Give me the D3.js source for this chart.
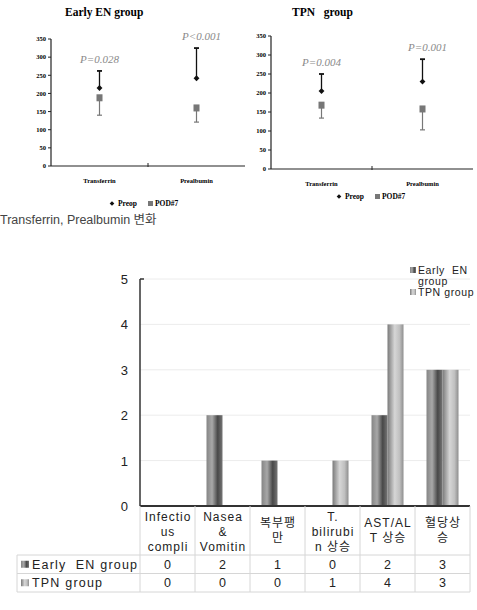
<!DOCTYPE html>
<html>
<head>
<meta charset="utf-8">
<script src="https://cdn.jsdelivr.net/npm/d3@7"></script>
<style>
  body { margin: 0; background: #fff; }
  svg { display: block; }
</style>
</head>
<body>
<div class="svgcontainer"></div>
<script>
// top panels: mean and one-sided error bar ends
const topCategories = ['Transferrin', 'Prealbumin'];
const enPreop = [215, 242];
const enPreopUpper = [262, 325];
const enPod = [188, 160];
const enPodLower = [140, 121];
const enPvalues = ['P=0.028', 'P<0.001'];
const tpnPreop = [205, 230];
const tpnPreopUpper = [250, 289];
const tpnPod = [168, 158];
const tpnPodLower = [134, 103];
const tpnPvalues = ['P=0.004', 'P=0.001'];
const topTicks = [0, 50, 100, 150, 200, 250, 300, 350];

// bottom panel: complications
const compCategories = [
  ['Infectio', 'us', 'compli'],
  ['Nasea', '&', 'Vomitin'],
  ['복부팽', '만'],
  ['T.', 'bilirubi', 'n 상승'],
  ['AST/AL', 'T 상승'],
  ['혈당상', '승'],
];
const seriesNames = ['Early  EN group', 'TPN group'];
const enCounts = [0, 2, 1, 0, 2, 3];
const tpnCounts = [0, 0, 0, 1, 4, 3];
const countTicks = [0, 1, 2, 3, 4, 5];

const svg = d3
  .select('.svgcontainer')
  .append('svg')
  .attr('width', 477)
  .attr('height', 610);

const defs = svg.append('defs');
function gradient(id, stops) {
  const lg = defs.append('linearGradient').attr('id', id)
    .attr('x1', '0%').attr('x2', '100%').attr('y1', '0%').attr('y2', '0%');
  stops.forEach(s => lg.append('stop').attr('offset', s[0]).attr('stop-color', s[1]));
}
gradient('gradEN', [['0%', '#858585'], ['35%', '#a8a8a8'], ['70%', '#484848'], ['100%', '#767676']]);
gradient('gradTPN', [['0%', '#7a7a7a'], ['45%', '#d6d6d6'], ['75%', '#c0c0c0'], ['100%', '#8e8e8e']]);

const serif = "'Liberation Serif', 'DejaVu Serif', serif";

function smallPanel(opt) {
  const g = svg.append('g');
  const x = d3.scaleLinear().domain([0, 4]).range([opt.left, opt.right]);
  const y = d3.scaleLinear().domain([0, 350]).range([opt.bottom, opt.top]);

  g.append('text')
    .attr('x', opt.titleX)
    .attr('y', 16)
    .style('font', `bold 11.5px ${serif}`)
    .attr('xml:space', 'preserve')
    .text(opt.title);

  // y axis
  g.append('line')
    .attr('x1', opt.left).attr('x2', opt.left)
    .attr('y1', y(350)).attr('y2', y(0))
    .attr('stroke', '#222').attr('stroke-width', 1.2);
  g.selectAll('.yt')
    .data(topTicks)
    .enter()
    .append('line')
    .attr('x1', opt.left - 3).attr('x2', opt.left)
    .attr('y1', d => y(d)).attr('y2', d => y(d))
    .attr('stroke', '#222');
  g.selectAll('.yl')
    .data(topTicks)
    .enter()
    .append('text')
    .attr('x', opt.left - 5)
    .attr('y', d => y(d) + 2.3)
    .attr('text-anchor', 'end')
    .style('font', `bold 6.5px ${serif}`)
    .text(d => d);

  // x axis
  g.append('line')
    .attr('x1', opt.left).attr('x2', opt.right)
    .attr('y1', y(0)).attr('y2', y(0))
    .attr('stroke', '#222').attr('stroke-width', 1.2);
  g.append('line')
    .attr('x1', x(2)).attr('x2', x(2))
    .attr('y1', y(0) - 3).attr('y2', y(0) + 1)
    .attr('stroke', '#222');
  g.selectAll('.xl')
    .data(topCategories)
    .enter()
    .append('text')
    .attr('x', (d, i) => x(1 + 2 * i))
    .attr('y', y(0) + 17)
    .attr('text-anchor', 'middle')
    .style('font', `bold 6.5px ${serif}`)
    .text(d => d);

  topCategories.forEach(function(c, i) {
    const cx = x(1 + 2 * i);
    // Preop: line up to cap
    g.append('line')
      .attr('x1', cx).attr('x2', cx)
      .attr('y1', y(opt.preop[i])).attr('y2', y(opt.preopUpper[i]))
      .attr('stroke', '#111').attr('stroke-width', 1.3);
    g.append('line')
      .attr('x1', cx - 2.5).attr('x2', cx + 2.5)
      .attr('y1', y(opt.preopUpper[i])).attr('y2', y(opt.preopUpper[i]))
      .attr('stroke', '#111').attr('stroke-width', 1.8);
    g.append('path')
      .attr('d', d3.symbol().type(d3.symbolDiamond2).size(22))
      .attr('transform', `translate(${cx},${y(opt.preop[i])})`)
      .attr('fill', '#111');
    // POD#7: line down to cap
    g.append('line')
      .attr('x1', cx).attr('x2', cx)
      .attr('y1', y(opt.pod[i])).attr('y2', y(opt.podLower[i]))
      .attr('stroke', '#777').attr('stroke-width', 1.2);
    g.append('line')
      .attr('x1', cx - 2.5).attr('x2', cx + 2.5)
      .attr('y1', y(opt.podLower[i])).attr('y2', y(opt.podLower[i]))
      .attr('stroke', '#777').attr('stroke-width', 1.2);
    g.append('rect')
      .attr('x', cx - 3).attr('y', y(opt.pod[i]) - 3.5)
      .attr('width', 6).attr('height', 7)
      .attr('fill', '#777');
    // p value
    g.append('text')
      .attr('x', cx + (i === 1 ? 5 : 0))
      .attr('y', y(opt.preopUpper[i]) - 8)
      .attr('text-anchor', 'middle')
      .style('font', `italic 11px ${serif}`)
      .attr('fill', '#8a8a8a')
      .text(opt.pvalues[i]);
  });

  // legend
  const lg = g.append('g').attr('transform', `translate(${opt.legendX},${opt.legendY})`);
  lg.append('path')
    .attr('d', d3.symbol().type(d3.symbolDiamond2).size(14))
    .attr('transform', 'translate(0,-2.5)')
    .attr('fill', '#111');
  lg.append('text').attr('x', 6).attr('y', 0)
    .style('font', `bold 7.5px ${serif}`).text('Preop');
  lg.append('rect').attr('x', 36).attr('y', -5).attr('width', 5).attr('height', 5).attr('fill', '#777');
  lg.append('text').attr('x', 43).attr('y', 0)
    .style('font', `bold 7.5px ${serif}`).text('POD#7');
}

smallPanel({
  left: 51, right: 245, top: 39, bottom: 166, titleX: 65, title: 'Early EN group',
  preop: enPreop, preopUpper: enPreopUpper, pod: enPod, podLower: enPodLower,
  pvalues: enPvalues, legendX: 112, legendY: 206,
});
smallPanel({
  left: 271, right: 473, top: 36, bottom: 169, titleX: 292, title: 'TPN   group',
  preop: tpnPreop, preopUpper: tpnPreopUpper, pod: tpnPod, podLower: tpnPodLower,
  pvalues: tpnPvalues, legendX: 339, legendY: 199,
});

svg.append('text')
  .attr('x', 0)
  .attr('y', 224)
  .style('font', "12.5px 'Liberation Sans', 'Noto Sans CJK KR', sans-serif")
  .attr('fill', '#444')
  .text('Transferrin, Prealbumin 변화');

// ---- bottom chart ----
const sans = "'Liberation Sans', 'Noto Sans CJK KR', sans-serif";
const margin = {left: 140, right: 470, top: 279, bottom: 506};
const gb = svg.append('g');
const x0 = d3.scaleBand()
  .domain(d3.range(compCategories.length))
  .range([margin.left, margin.right]);
const y = d3.scaleLinear().domain([0, 5]).range([margin.bottom, margin.top]);
const barW = 16;

// grid
gb.selectAll('.grid')
  .data(countTicks.slice(1))
  .enter()
  .append('line')
  .attr('x1', margin.left).attr('x2', margin.right)
  .attr('y1', d => y(d)).attr('y2', d => y(d))
  .attr('stroke', '#ececec');

// bars
gb.selectAll('.en')
  .data(enCounts)
  .enter()
  .append('rect')
  .attr('x', (d, i) => x0(i) + x0.bandwidth() / 2 - barW)
  .attr('y', d => y(d))
  .attr('width', barW)
  .attr('height', d => y(0) - y(d))
  .attr('fill', 'url(#gradEN)');
gb.selectAll('.tpn')
  .data(tpnCounts)
  .enter()
  .append('rect')
  .attr('x', (d, i) => x0(i) + x0.bandwidth() / 2)
  .attr('y', d => y(d))
  .attr('width', barW)
  .attr('height', d => y(0) - y(d))
  .attr('fill', 'url(#gradTPN)');

// axes
gb.append('line')
  .attr('x1', margin.left).attr('x2', margin.left)
  .attr('y1', y(5)).attr('y2', y(0))
  .attr('stroke', '#333').attr('stroke-width', 1.5);
gb.append('line')
  .attr('x1', margin.left).attr('x2', margin.left + 4)
  .attr('y1', y(5)).attr('y2', y(5))
  .attr('stroke', '#333').attr('stroke-width', 1.5);
gb.append('line')
  .attr('x1', margin.left).attr('x2', margin.right)
  .attr('y1', y(0)).attr('y2', y(0))
  .attr('stroke', '#333').attr('stroke-width', 1.8);
gb.selectAll('.ytl')
  .data(countTicks)
  .enter()
  .append('text')
  .attr('x', 128)
  .attr('y', d => y(d) + 5)
  .attr('text-anchor', 'end')
  .style('font', `13px ${sans}`)
  .attr('fill', '#222')
  .text(d => d);

// table
const tableLeft = 17;
const rowTop = 555;
const rowH = 18.5;
const tableBottom = rowTop + 2 * rowH;
const tableLine = '#d6d6d6';

d3.range(compCategories.length + 1).forEach(function(i) {
  const xx = i < compCategories.length ? x0(i) : margin.right;
  gb.append('line')
    .attr('x1', xx).attr('x2', xx)
    .attr('y1', y(0)).attr('y2', tableBottom)
    .attr('stroke', tableLine);
});
[rowTop, rowTop + rowH, tableBottom].forEach(function(yy) {
  gb.append('line')
    .attr('x1', tableLeft).attr('x2', margin.right)
    .attr('y1', yy).attr('y2', yy)
    .attr('stroke', tableLine);
});
gb.append('line')
  .attr('x1', tableLeft).attr('x2', tableLeft)
  .attr('y1', rowTop).attr('y2', tableBottom)
  .attr('stroke', tableLine);

compCategories.forEach(function(lines, i) {
  const startY = lines.length === 3 ? 521 : 527;
  const t = gb.append('text')
    .attr('text-anchor', 'middle')
    .style('font', `12px ${sans}`)
    .style('letter-spacing', '1px')
    .attr('fill', '#222');
  lines.forEach(function(l, j) {
    t.append('tspan')
      .attr('x', x0(i) + x0.bandwidth() / 2 + 0.5)
      .attr('y', startY + j * 15)
      .text(l);
  });
});

const rows = [enCounts, tpnCounts];
const grads = ['url(#gradEN)', 'url(#gradTPN)'];
rows.forEach(function(vals, r) {
  const cy = rowTop + r * rowH + rowH / 2;
  gb.append('rect')
    .attr('x', 21).attr('y', cy - 3.5)
    .attr('width', 8).attr('height', 7)
    .attr('fill', grads[r]);
  gb.append('text')
    .attr('x', 32).attr('y', cy + 4.5)
    .style('font', `12.5px ${sans}`)
    .style('letter-spacing', '1.2px')
    .attr('xml:space', 'preserve')
    .attr('fill', '#222')
    .text(seriesNames[r]);
  gb.selectAll(null)
    .data(vals)
    .enter()
    .append('text')
    .attr('x', (d, i) => x0(i) + x0.bandwidth() / 2)
    .attr('y', cy + 4.5)
    .attr('text-anchor', 'middle')
    .style('font', `12.5px ${sans}`)
    .attr('fill', '#222')
    .text(d => d);
});

// legend top right
const legend = gb.append('g').attr('transform', 'translate(410,270)');
const legendLines = [['Early  EN', 0], ['group', null], ['TPN group', 1]];
legendLines.forEach(function(l, k) {
  if (l[1] !== null) {
    legend.append('rect')
      .attr('x', 0).attr('y', k * 11 - 3)
      .attr('width', 6).attr('height', 6)
      .attr('fill', grads[l[1]]);
  }
  legend.append('text')
    .attr('x', 8).attr('y', k * 11 + 4)
    .attr('xml:space', 'preserve')
    .style('font', `10.5px ${sans}`)
    .style('letter-spacing', '0.6px')
    .attr('fill', '#222')
    .text(l[0]);
});
</script>
</body>
</html>
